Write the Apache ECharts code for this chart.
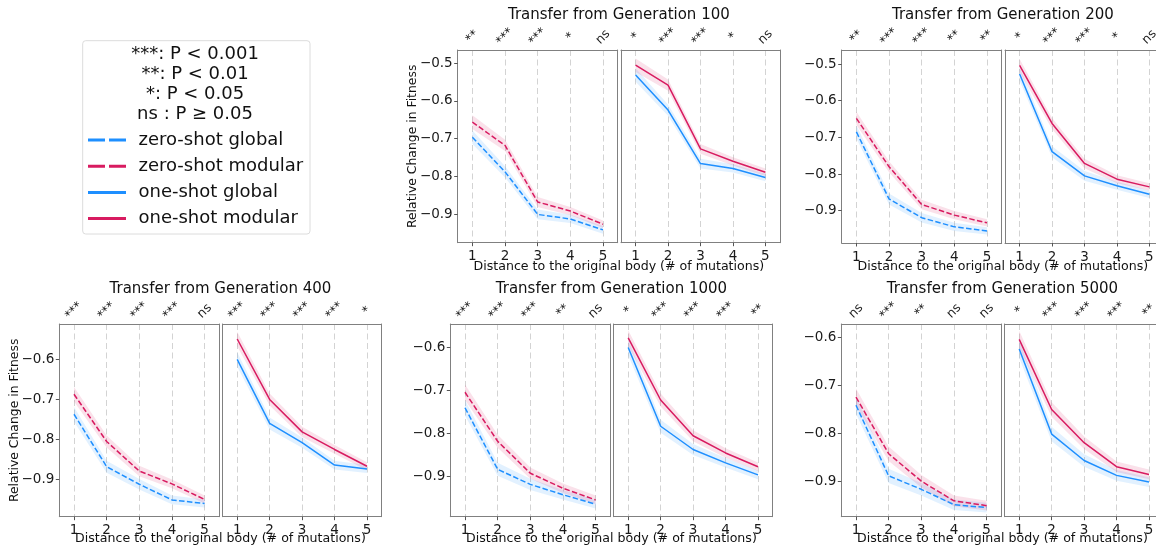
<!DOCTYPE html>
<html><head><meta charset="utf-8">
<script src="https://cdn.jsdelivr.net/npm/echarts@6/dist/echarts.min.js"></script>
<style>html,body{margin:0;padding:0;background:#fff}#c{width:1156px;height:548px}</style>
</head><body><div id="c"></div>
<script>
// ---------------- data ----------------
const distances = [1, 2, 3, 4, 5];
const ciHalfWidth = [0.018, 0.015, 0.013, 0.011, 0.010];
const yTicksTop = [-0.9, -0.8, -0.7, -0.6, -0.5];
const yTicksBottom = [-0.9, -0.8, -0.7, -0.6];

const gen100ZeroGlobal  = [-0.696, -0.788, -0.901, -0.913, -0.942];
const gen100ZeroModular = [-0.656, -0.718, -0.868, -0.892, -0.927];
const gen100OneGlobal   = [-0.531, -0.624, -0.766, -0.779, -0.803];
const gen100OneModular  = [-0.505, -0.558, -0.727, -0.760, -0.789];
const gen100SigZero = ['**', '***', '***', '*', 'ns'];
const gen100SigOne  = ['*', '***', '***', '*', 'ns'];

const gen200ZeroGlobal  = [-0.685, -0.868, -0.919, -0.944, -0.955];
const gen200ZeroModular = [-0.648, -0.780, -0.883, -0.912, -0.933];
const gen200OneGlobal   = [-0.527, -0.739, -0.805, -0.832, -0.855];
const gen200OneModular  = [-0.504, -0.662, -0.771, -0.814, -0.835];
const gen200SigZero = ['**', '***', '***', '**', '**'];
const gen200SigOne  = ['*', '***', '***', '*', 'ns'];

const gen400ZeroGlobal  = [-0.738, -0.869, -0.913, -0.952, -0.961];
const gen400ZeroModular = [-0.688, -0.806, -0.880, -0.912, -0.951];
const gen400OneGlobal   = [-0.601, -0.761, -0.809, -0.865, -0.875];
const gen400OneModular  = [-0.550, -0.701, -0.782, -0.826, -0.868];
const gen400SigZero = ['***', '***', '***', '***', 'ns'];
const gen400SigOne  = ['***', '***', '***', '***', '*'];

const gen1000ZeroGlobal  = [-0.740, -0.883, -0.918, -0.942, -0.964];
const gen1000ZeroModular = [-0.704, -0.818, -0.892, -0.927, -0.954];
const gen1000OneGlobal   = [-0.600, -0.783, -0.837, -0.868, -0.896];
const gen1000OneModular  = [-0.578, -0.722, -0.805, -0.845, -0.877];
const gen1000SigZero = ['***', '***', '***', '**', 'ns'];
const gen1000SigOne  = ['*', '***', '***', '***', '**'];

const gen5000ZeroGlobal  = [-0.741, -0.888, -0.916, -0.948, -0.954];
const gen5000ZeroModular = [-0.724, -0.842, -0.899, -0.940, -0.950];
const gen5000OneGlobal   = [-0.624, -0.801, -0.856, -0.887, -0.901];
const gen5000OneModular  = [-0.604, -0.750, -0.819, -0.869, -0.885];
const gen5000SigZero = ['ns', '***', '**', 'ns', 'ns'];
const gen5000SigOne  = ['*', '***', '***', '***', '**'];

const seriesNames = ['zero-shot global', 'zero-shot modular', 'one-shot global', 'one-shot modular'];
const legendNotes = ['***: P < 0.001', '**: P < 0.01', '*: P < 0.05', 'ns : P \u2265 0.05'];
const xAxisTitle = 'Distance to the original body (# of mutations)';
const yAxisTitle = 'Relative Change in Fitness';

// ---------------- layout / style ----------------
const FONT = 'DejaVu Sans';
const BLUE = '#1e8fff';
const PINK = '#d81b60';
const BLUE_BAND = 'rgba(30,143,255,0.13)';
const PINK_BAND = 'rgba(216,27,96,0.13)';
const SPINE = '#808080';
const DASH = [5.5, 2.4];
const LEFT_W = 160, GAP = 3.3, RIGHT_W = 159;
const DASH_ICON = 'path://M0,0H17V3H0ZM21,0H38V3H21Z';
const SOLID_ICON = 'path://M0,0H38V3H0Z';

const panels = [
  {title: 'Transfer from Generation 100', zg: gen100ZeroGlobal, zm: gen100ZeroModular, og: gen100OneGlobal, om: gen100OneModular, sz: gen100SigZero, so: gen100SigOne,
   left: 457.7, top: 50, height: 192.7, yMin: -0.976, yMax: -0.4647, yTicks: yTicksTop, yName: true, titleY: 15, xNameY: 266.7},
  {title: 'Transfer from Generation 200', zg: gen200ZeroGlobal, zm: gen200ZeroModular, og: gen200OneGlobal, om: gen200OneModular, sz: gen200SigZero, so: gen200SigOne,
   left: 841.7, top: 50, height: 193, yMin: -0.988, yMax: -0.4618, yTicks: yTicksTop, yName: false, titleY: 15, xNameY: 266.7},
  {title: 'Transfer from Generation 400', zg: gen400ZeroGlobal, zm: gen400ZeroModular, og: gen400OneGlobal, om: gen400OneModular, sz: gen400SigZero, so: gen400SigOne,
   left: 59.3, top: 324, height: 192.7, yMin: -0.994, yMax: -0.5125, yTicks: yTicksBottom, yName: true, titleY: 289.3, xNameY: 538.3},
  {title: 'Transfer from Generation 1000', zg: gen1000ZeroGlobal, zm: gen1000ZeroModular, og: gen1000OneGlobal, om: gen1000OneModular, sz: gen1000SigZero, so: gen1000SigOne,
   left: 450.3, top: 324, height: 192.7, yMin: -0.993, yMax: -0.5456, yTicks: yTicksBottom, yName: false, titleY: 289.3, xNameY: 538.3},
  {title: 'Transfer from Generation 5000', zg: gen5000ZeroGlobal, zm: gen5000ZeroModular, og: gen5000OneGlobal, om: gen5000OneModular, sz: gen5000SigZero, so: gen5000SigOne,
   left: 841.3, top: 324, height: 192.7, yMin: -0.973, yMax: -0.572, yTicks: yTicksBottom, yName: false, titleY: 289.3, xNameY: 538.3}
];

const grids = [], xAxes = [], yAxes = [], series = [], graphics = [];
const minus = v => '\u2212' + Math.abs(v).toFixed(1);

function bandSeries(vals, color, xi, yi) {
  return {
    type: 'custom', coordinateSystem: 'cartesian2d', xAxisIndex: xi, yAxisIndex: yi, silent: true, z: 1,
    encode: {x: 0, y: [1, 2]},
    data: distances.map((d, i) => [d, vals[i] - ciHalfWidth[i], vals[i] + ciHalfWidth[i]]),
    renderItem: function (params, api) {
      if (params.dataIndexInside !== 0) return null;
      const n = params.dataInsideLength;
      const upper = [], lower = [];
      for (let i = 0; i < n; i++) {
        const x = api.value(0, i);
        upper.push(api.coord([x, api.value(2, i)]));
        lower.push(api.coord([x, api.value(1, i)]));
      }
      return {type: 'polygon', shape: {points: upper.concat(lower.reverse())}, style: {fill: color, stroke: null}};
    }
  };
}
function lineSeries(name, vals, color, dashed, xi, yi) {
  return {
    name: name, type: 'line', xAxisIndex: xi, yAxisIndex: yi, symbol: 'none', z: 3, silent: true,
    data: distances.map((d, i) => [d, vals[i]]),
    lineStyle: {color: color, width: 1.5, type: dashed ? DASH : 'solid'},
    itemStyle: {color: color}
  };
}

panels.forEach(p => {
  const subs = [
    {left: p.left, width: LEFT_W, g: p.zg, m: p.zm, sig: p.sz, dashed: true, names: [seriesNames[0], seriesNames[1]], showY: true},
    {left: p.left + LEFT_W + GAP, width: RIGHT_W, g: p.og, m: p.om, sig: p.so, dashed: false, names: [seriesNames[2], seriesNames[3]], showY: false}
  ];
  subs.forEach(s => {
    const gi = grids.length;
    grids.push({left: s.left, top: p.top, width: s.width, height: p.height, show: false,
      containLabel: false, outerBoundsMode: 'none'});
    const xb = xAxes.length;
    xAxes.push({gridIndex: gi, type: 'value', min: 0.55, max: 5.45, position: 'bottom',
      axisLine: {show: true, onZero: false, lineStyle: {color: SPINE, width: 1}},
      axisTick: {show: true, length: 3.5, customValues: distances, lineStyle: {color: '#555'}},
      axisLabel: {customValues: distances, fontSize: 13.5, color: '#1a1a1a', fontFamily: FONT, margin: 7},
      splitLine: {show: true, lineStyle: {color: '#d3d3d3', width: 1, type: [6, 3.5]}}});
    const sig = s.sig;
    xAxes.push({gridIndex: gi, type: 'value', min: 0.55, max: 5.45, position: 'top',
      axisLine: {show: true, onZero: false, lineStyle: {color: SPINE, width: 1}}, axisTick: {show: false}, splitLine: {show: false},
      axisLabel: {customValues: distances, rotate: -45, align: 'center', verticalAlign: 'middle', margin: 13,
        fontSize: 12.5, color: '#1a1a1a', fontFamily: FONT, formatter: v => sig[Math.round(v) - 1]}});
    const yi = yAxes.length;
    yAxes.push({gridIndex: gi, type: 'value', position: 'left', min: p.yMin, max: p.yMax,
      axisLine: {show: true, onZero: false, lineStyle: {color: SPINE, width: 1}},
      axisTick: {show: s.showY, length: 3.5, customValues: p.yTicks, lineStyle: {color: '#555'}},
      axisLabel: {show: s.showY, customValues: p.yTicks, formatter: minus, fontSize: 13.5, color: '#1a1a1a', fontFamily: FONT, margin: 5},
      splitLine: {show: false}});
    yAxes.push({gridIndex: gi, type: 'value', position: 'right', min: p.yMin, max: p.yMax,
      axisLine: {show: true, onZero: false, lineStyle: {color: SPINE, width: 1}},
      axisTick: {show: false}, axisLabel: {show: false}, splitLine: {show: false}});
    series.push(bandSeries(s.g, BLUE_BAND, xb, yi));
    series.push(bandSeries(s.m, PINK_BAND, xb, yi));
    series.push(lineSeries(s.names[0], s.g, BLUE, s.dashed, xb, yi));
    series.push(lineSeries(s.names[1], s.m, PINK, s.dashed, xb, yi));
  });
  const cx = p.left + (LEFT_W + GAP + RIGHT_W) / 2;
  graphics.push({type: 'text', x: cx, y: p.titleY, z: 10,
    style: {text: p.title, font: '15px "' + FONT + '"', fill: '#111', textAlign: 'center', textVerticalAlign: 'middle'}});
  graphics.push({type: 'text', x: cx, y: p.xNameY, z: 10,
    style: {text: xAxisTitle, font: '12.6px "' + FONT + '"', fill: '#111', textAlign: 'center', textVerticalAlign: 'middle'}});
  if (p.yName) {
    graphics.push({type: 'text', x: p.left - 44.5, y: p.top + p.height / 2, rotation: Math.PI / 2, z: 10,
      style: {text: yAxisTitle, font: '12.4px "' + FONT + '"', fill: '#111', textAlign: 'center', textVerticalAlign: 'middle'}});
  }
});

// legend frame and notes
graphics.push({type: 'rect', shape: {x: 82.7, y: 40.7, width: 227.3, height: 193.3, r: 3}, z: 5,
  style: {fill: '#fff', stroke: '#dcdcdc', lineWidth: 1}});
legendNotes.forEach((t, i) => {
  graphics.push({type: 'text', x: 195, y: 54 + i * 20, z: 6,
    style: {text: t, font: '18px "' + FONT + '"', fill: '#111', textAlign: 'center', textVerticalAlign: 'middle'}});
});

const chart = echarts.init(document.getElementById('c'), null, {renderer: 'canvas'});
chart.setOption({
  animation: false,
  backgroundColor: '#fff',
  textStyle: {fontFamily: FONT},
  grid: grids, xAxis: xAxes, yAxis: yAxes, series: series,
  graphic: {elements: graphics},
  legend: {
    orient: 'vertical', left: 83, top: 126, padding: 5, itemGap: 8.2, itemWidth: 39, itemHeight: 3,
    selectedMode: false, z: 20,
    textStyle: {fontSize: 18, color: '#111', fontFamily: FONT, padding: [0, 0, 0, 7]},
    data: [
      {name: seriesNames[0], icon: DASH_ICON, itemStyle: {color: BLUE}},
      {name: seriesNames[1], icon: DASH_ICON, itemStyle: {color: PINK}},
      {name: seriesNames[2], icon: SOLID_ICON, itemStyle: {color: BLUE}},
      {name: seriesNames[3], icon: SOLID_ICON, itemStyle: {color: PINK}}
    ]
  }
});
</script></body></html>
